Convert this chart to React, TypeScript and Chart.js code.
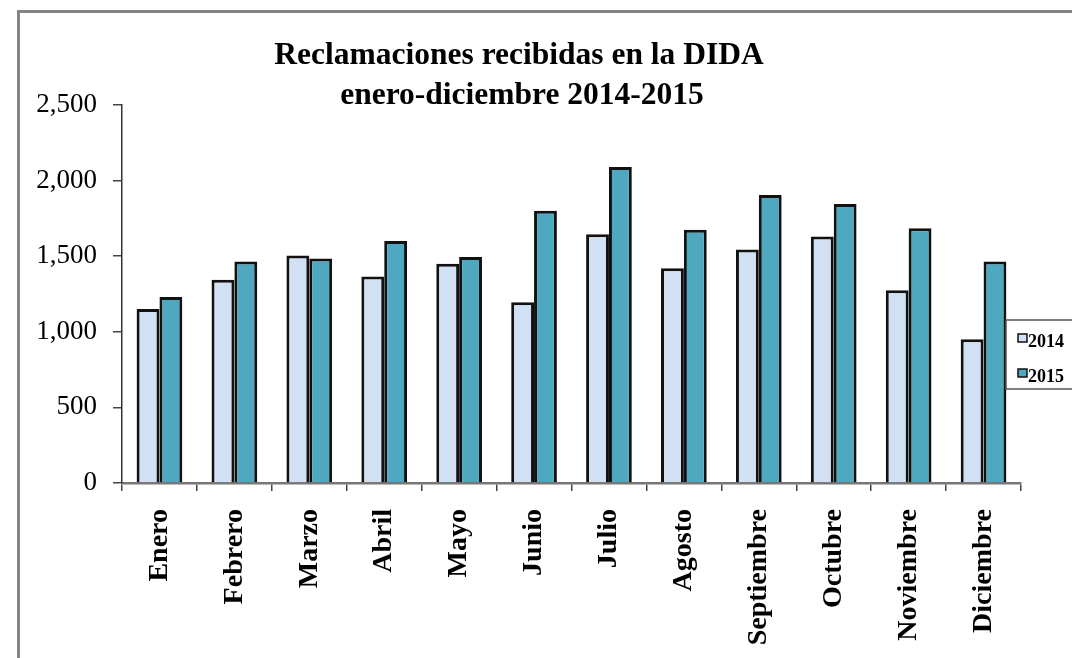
import React, { useEffect, useRef } from "react";
import { Chart, registerables } from "chart.js";

Chart.register(...registerables);

const categories = [
  "Enero", "Febrero", "Marzo", "Abril", "Mayo", "Junio",
  "Julio", "Agosto", "Septiembre", "Octubre", "Noviembre", "Diciembre",
];
const values2014 = [1150, 1345, 1505, 1365, 1450, 1195, 1645, 1420, 1545, 1630, 1275, 950];
const values2015 = [1230, 1465, 1485, 1600, 1495, 1800, 2090, 1675, 1905, 1845, 1685, 1465];
const seriesNames = ["2014", "2015"];
const titleLines = ["Reclamaciones recibidas en la DIDA", "enero-diciembre 2014-2015"];
const yMax = 2500;
const yStep = 500;

const COLOR_2014 = "#D1E1F3";
const COLOR_2015 = "#4EA8C0";
const SERIF = '"Liberation Serif", "Times New Roman", serif';

const framePlugin = {
  id: "frame",
  beforeDraw(chart: any) {
    const ctx = chart.ctx;
    ctx.save();
    ctx.fillStyle = "#ffffff";
    ctx.fillRect(0, 0, chart.width, chart.height);
    ctx.strokeStyle = "#858585";
    ctx.lineWidth = 3;
    ctx.strokeRect(18.5, 11.5, chart.width + 20, chart.height + 20);
    ctx.restore();
  },
};

const titlePlugin = {
  id: "customTitle",
  afterDraw(chart: any) {
    const ctx = chart.ctx;
    ctx.save();
    ctx.fillStyle = "#000";
    ctx.font = `bold 31.5px ${SERIF}`;
    ctx.textAlign = "center";
    ctx.textBaseline = "alphabetic";
    ctx.fillText(titleLines[0], 519, 64);
    ctx.fillText(titleLines[1], 522, 104);
    ctx.restore();
  },
};

const legendPlugin = {
  id: "customLegend",
  afterDraw(chart: any) {
    const ctx = chart.ctx;
    ctx.save();
    ctx.fillStyle = "#ffffff";
    ctx.fillRect(1006, 320, 80, 69);
    ctx.strokeStyle = "#555";
    ctx.lineWidth = 1.5;
    ctx.strokeRect(1006, 320, 80, 69);
    const colors = [COLOR_2014, COLOR_2015];
    const ys = [334, 369];
    ctx.font = `bold 18px ${SERIF}`;
    ctx.textBaseline = "alphabetic";
    ctx.textAlign = "left";
    for (let i = 0; i < seriesNames.length; i++) {
      ctx.fillStyle = colors[i];
      ctx.fillRect(1018, ys[i], 9, 8);
      ctx.strokeStyle = "#111";
      ctx.lineWidth = 1.5;
      ctx.strokeRect(1018, ys[i], 9, 8);
      ctx.fillStyle = "#000";
      ctx.fillText(seriesNames[i], 1028, ys[i] + 13);
    }
    ctx.restore();
  },
};

export default function App() {
  const canvasRef = useRef<HTMLCanvasElement | null>(null);

  useEffect(() => {
    if (!canvasRef.current) return;
    const chart = new Chart(canvasRef.current, {
      type: "bar",
      data: {
        labels: categories,
        datasets: [
          {
            label: seriesNames[0],
            data: values2014,
            backgroundColor: COLOR_2014,
            borderColor: "#111",
            borderWidth: 3,
            categoryPercentage: 0.61,
            barPercentage: 1.0,
          },
          {
            label: seriesNames[1],
            data: values2015,
            backgroundColor: COLOR_2015,
            borderColor: "#111",
            borderWidth: 3,
            categoryPercentage: 0.61,
            barPercentage: 1.0,
          },
        ],
      },
      options: {
        responsive: false,
        animation: false,
        layout: { padding: { top: 105, right: 51, left: 0, bottom: 0 } },
        plugins: {
          legend: { display: false },
          title: { display: false },
          tooltip: { enabled: false },
        },
        scales: {
          x: {
            grid: {
              offset: true,
              drawOnChartArea: false,
              drawTicks: true,
              tickLength: 8,
              color: "#444",
              lineWidth: 1.5,
            },
            border: { display: true, color: "#777", width: 2.5 },
            ticks: {
              color: "#000",
              font: { family: SERIF, size: 28, weight: "bold" },
              minRotation: 90,
              maxRotation: 90,
              autoSkip: false,
              padding: 18,
            },
            afterFit(scale: any) {
              scale.height = 175;
            },
          },
          y: {
            min: 0,
            max: yMax,
            grid: {
              drawOnChartArea: false,
              drawTicks: true,
              tickLength: 9,
              color: "#444",
              lineWidth: 1.5,
            },
            border: { display: true, color: "#333", width: 1.5 },
            ticks: {
              stepSize: yStep,
              color: "#000",
              font: { family: SERIF, size: 27 },
              padding: 16,
              callback: (v: any) => Number(v).toLocaleString("en-US"),
            },
            afterFit(scale: any) {
              scale.width = 122;
            },
          },
        },
      },
      plugins: [framePlugin, titlePlugin, legendPlugin],
    });
    return () => chart.destroy();
  }, []);

  return (
    <div style={{ position: "absolute", left: 0, top: 0, width: 1072, height: 658 }}>
      <canvas ref={canvasRef} width={1072} height={658} />
    </div>
  );
}
